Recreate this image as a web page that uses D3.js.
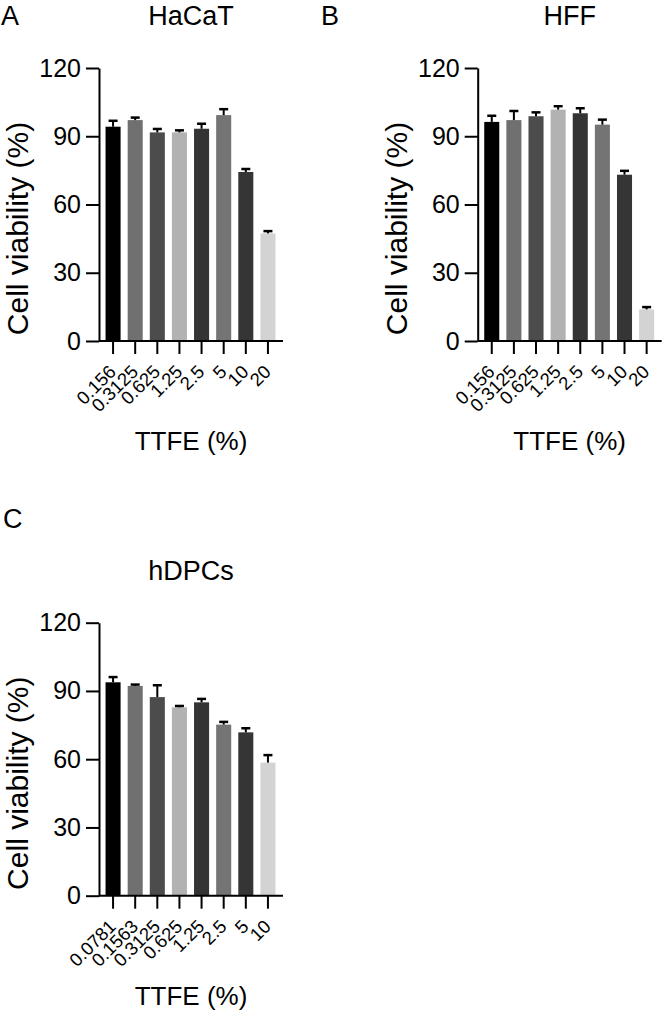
<!DOCTYPE html>
<html>
<head>
<meta charset="utf-8">
<script src="https://cdn.jsdelivr.net/npm/d3@7"></script>
<style>
  html, body { margin: 0; padding: 0; background: #fff; }
  svg { display: block; font-family: "Liberation Sans", Arial, Helvetica, sans-serif; }
</style>
</head>
<body>
<svg id="chart" width="664" height="1011"></svg>
<script>
// ---- data ----
const hacatCats = ["0.156", "0.3125", "0.625", "1.25", "2.5", "5", "10", "20"];
const hacatMean = [94.2, 97.1, 91.7, 91.7, 93.3, 99.3, 74.3, 47.3];
const hacatErr  = [2.6, 1.1, 1.5, 0.9, 2.2, 2.6, 1.3, 1.0];

const hffCats = ["0.156", "0.3125", "0.625", "1.25", "2.5", "5", "10", "20"];
const hffMean = [96.3, 97.1, 98.8, 101.7, 100.1, 95.1, 73.1, 13.9];
const hffErr  = [2.7, 4.0, 1.7, 1.5, 2.2, 2.2, 1.7, 1.0];

const hdpcCats = ["0.0781", "0.1563", "0.3125", "0.625", "1.25", "2.5", "5", "10"];
const hdpcMean = [93.8, 92.2, 87.3, 82.8, 85.0, 75.2, 71.8, 58.5];
const hdpcErr  = [2.3, 0.6, 5.2, 0.6, 1.5, 1.2, 1.8, 3.3];

const yTicks = [0, 30, 60, 90, 120];
const barColors = ["#000000", "#707070", "#4c4c4c", "#b2b2b2", "#343434", "#747474", "#353535", "#d3d3d3"];

const panels = [
  { letter: "A", letterX: 1, letterY: 25, title: "HaCaT", cats: hacatCats, mean: hacatMean, err: hacatErr,
    x0: 99, x1: 283, yTop: 68, yBot: 341 },
  { letter: "B", letterX: 321, letterY: 25, title: "HFF", cats: hffCats, mean: hffMean, err: hffErr,
    x0: 477.7, x1: 661.7, yTop: 68, yBot: 341 },
  { letter: "C", letterX: 3, letterY: 528, title: "hDPCs", cats: hdpcCats, mean: hdpcMean, err: hdpcErr,
    x0: 99, x1: 283, yTop: 622.7, yBot: 895.7 }
];

const svg = d3.select("#chart");

panels.forEach(p => {
  const g = svg.append("g");

  const y = d3.scaleLinear().domain([0, 120]).range([p.yBot, p.yTop]);
  const x = d3.scaleBand().domain(p.cats)
    .range([p.x0 + 3, p.x1 - 4]).paddingInner(0.32).paddingOuter(0.16);

  // bars
  g.selectAll("rect.bar").data(p.cats).join("rect")
    .attr("class", "bar")
    .attr("x", d => x(d))
    .attr("width", x.bandwidth())
    .attr("y", (d, i) => y(p.mean[i]))
    .attr("height", (d, i) => y(0) - y(p.mean[i]))
    .attr("fill", (d, i) => barColors[i % barColors.length]);

  // error bars (upper only)
  const eg = g.selectAll("g.err").data(p.cats).join("g").attr("class", "err");
  eg.append("line")
    .attr("x1", d => x(d) + x.bandwidth() / 2)
    .attr("x2", d => x(d) + x.bandwidth() / 2)
    .attr("y1", (d, i) => y(p.mean[i]))
    .attr("y2", (d, i) => y(p.mean[i] + p.err[i]))
    .attr("stroke", "#000").attr("stroke-width", 2);
  eg.append("line")
    .attr("x1", d => x(d) + x.bandwidth() / 2 - 4.5)
    .attr("x2", d => x(d) + x.bandwidth() / 2 + 4.5)
    .attr("y1", (d, i) => y(p.mean[i] + p.err[i]))
    .attr("y2", (d, i) => y(p.mean[i] + p.err[i]))
    .attr("stroke", "#000").attr("stroke-width", 2.5);

  // y axis
  const yAxis = d3.axisLeft(y).tickValues(yTicks).tickSize(13).tickSizeOuter(0).tickPadding(5);
  const ya = g.append("g").attr("transform", `translate(${p.x0},0)`).call(yAxis);
  ya.select(".domain").attr("stroke-width", 2);
  ya.selectAll(".tick line").attr("stroke-width", 2);
  ya.selectAll(".tick text").attr("font-size", 25).attr("fill", "#000")
    .attr("font-family", "Liberation Sans, Arial, sans-serif");

  // x axis
  const xAxis = d3.axisBottom(x).tickSize(13).tickSizeOuter(0);
  const xa = g.append("g").attr("transform", `translate(0,${p.yBot})`).call(xAxis);
  xa.select(".domain").attr("stroke-width", 2)
    .attr("d", `M${p.x0},0H${p.x1}`);
  xa.selectAll(".tick line").attr("stroke-width", 2);
  xa.selectAll(".tick text")
    .attr("font-size", 18.5).attr("fill", "#000")
    .attr("font-family", "Liberation Sans, Arial, sans-serif")
    .attr("text-anchor", "end")
    .attr("x", 0).attr("y", 0).attr("dy", 0)
    .attr("transform", "translate(4,32) rotate(-45)");

  // y-axis title
  g.append("text")
    .attr("transform", `translate(${p.x0 - 71},${(p.yTop + p.yBot) / 2 + 24}) rotate(-90)`)
    .attr("text-anchor", "middle")
    .attr("font-size", 30)
    .attr("fill", "#000")
    .text("Cell viability (%)");

  // x-axis title
  g.append("text")
    .attr("x", (p.x0 + p.x1) / 2)
    .attr("y", p.yBot + 109)
    .attr("text-anchor", "middle")
    .attr("font-size", 26)
    .attr("fill", "#000")
    .text("TTFE (%)");

  // panel title
  g.append("text")
    .attr("x", (p.x0 + p.x1) / 2)
    .attr("y", p.yTop - 43)
    .attr("text-anchor", "middle")
    .attr("font-size", 27)
    .attr("fill", "#000")
    .text(p.title);

  // panel letter
  svg.append("text")
    .attr("x", p.letterX)
    .attr("y", p.letterY)
    .attr("font-size", 27)
    .attr("fill", "#000")
    .text(p.letter);
});
</script>
</body>
</html>
